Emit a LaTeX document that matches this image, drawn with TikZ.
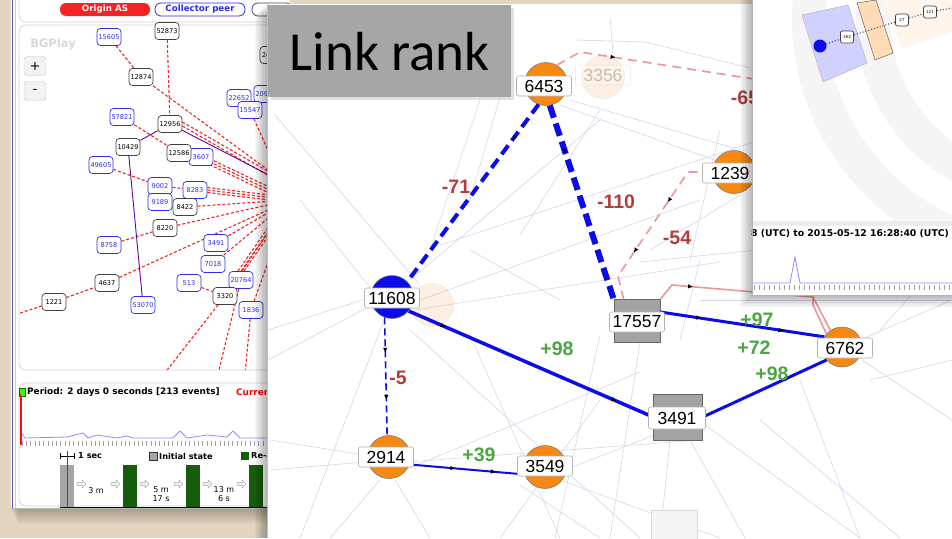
\documentclass[tikz,border=0pt]{standalone}
\usepackage{fontspec}
\setmainfont{Liberation Sans}
\newfontfamily\verdana{DejaVu Sans}
\newfontfamily\calibri{Carlito}
\usetikzlibrary{positioning,calc,arrows.meta,decorations.markings,shapes.arrows}

\definecolor{deskbeige}{RGB}{226,214,193}
\definecolor{asorange}{RGB}{246,136,20}
\definecolor{linkblue}{RGB}{12,12,235}
\definecolor{lossred}{RGB}{180,60,60}
\definecolor{gaingreen}{RGB}{75,165,65}
\definecolor{fadepink}{RGB}{236,150,150}
\definecolor{ghostline}{RGB}{214,214,234}
\definecolor{peerblue}{RGB}{45,45,235}
\definecolor{bgred}{RGB}{245,35,35}
\definecolor{bargreen}{RGB}{22,92,12}
\definecolor{titlegray}{RGB}{166,166,166}

\pgfdeclarelayer{back}
\pgfdeclarelayer{wires}
\pgfsetlayers{back,wires,main}

\begin{document}
\begin{tikzpicture}[x=1pt,y=-1pt,>=Latex]
    \tikzset{
        bgas/.style={
            draw=black!75,
            fill=white,
            rounded corners=3.5pt,
            minimum width=24pt,
            minimum height=17pt,
            inner sep=1pt,
            line width=0.7pt,
            font=\verdana\fontsize{6.6}{7}\selectfont
        },
        bgpeer/.style={bgas,draw=peerblue,text=peerblue},
        bgpath/.style={draw=bgred,dash pattern=on 3pt off 2pt,line width=1.1pt},
        bgtree/.style={draw=violet!85!blue,line width=0.9pt},
        button/.style={
            rounded corners=6pt,
            line width=0.8pt,
            minimum height=13pt,
            inner sep=1pt,
            font=\verdana\bfseries\fontsize{8.7}{9}\selectfont
        },
        zoombtn/.style={
            draw=gray!45,
            fill=gray!10,
            rounded corners=3pt,
            minimum width=22pt,
            minimum height=19pt,
            font=\verdana\fontsize{13}{13}\selectfont
        },
        panel/.style={draw=gray!35,line width=0.8pt,rounded corners=7pt},
        legend/.style={anchor=west,inner sep=0pt,font=\verdana\bfseries\fontsize{8.2}{9}\selectfont},
        tiny/.style={font=\verdana\fontsize{8}{9}\selectfont},
        hop/.style={
            single arrow,
            draw=gray!70,
            fill=gray!12,
            minimum height=9pt,
            minimum width=8pt,
            inner sep=0.6pt,
            single arrow head extend=1.5pt
        },
        asnode/.style={
            circle,
            fill=asorange,
            draw=black!55,
            line width=0.5pt,
            minimum size=43pt,
            inner sep=0pt
        },
        transit/.style={
            rectangle,
            fill=gray!72,
            draw=black!60,
            line width=0.6pt,
            minimum width=46pt,
            minimum height=43pt
        },
        aslabel/.style={
            rectangle,
            rounded corners=2pt,
            fill=white,
            draw=gray!60,
            line width=0.6pt,
            minimum width=55pt,
            minimum height=20pt,
            inner sep=2pt,
            font=\fontsize{17.5}{18}\selectfont
        },
        rankloss/.style={text=lossred,font=\bfseries\fontsize{19.5}{20}\selectfont},
        rankgain/.style={rankloss,text=gaingreen},
        ghost/.style={draw=ghostline,line width=0.6pt},
        midarrow/.style={
            postaction={decorate,decoration={markings,
                mark=at position #1 with {\arrow[black]{Latex[length=5pt,width=4.5pt]}}}}
        }
    }
    \useasboundingbox (0,0) rectangle (952,538);

    % Desk and BGPlay window
    \begin{pgfonlayer}{back}
        \fill[deskbeige] (0,0) rectangle (952,538);
        \foreach \i in {1,...,8}
            \fill[black,opacity=0.035] (10+\i,0) rectangle (268,508+2*\i);
        \fill[white] (11,0) rectangle (268,508);
        \draw[blue!35!gray,line width=0.8pt] (12,0) -- (12,508);
        \draw[gray!40,line width=0.6pt] (15.5,0) -- (15.5,508);
        \draw[gray!55,line width=0.6pt] (11,508) -- (268,508);
        \draw[panel,fill=white] (19,-8) rectangle (290,22);
        \draw[panel,fill=white] (19,25) rectangle (290,370);
        \draw[panel,fill=white] (19,383) rectangle (290,506);
    \end{pgfonlayer}

    %% Buttons
    \node[button,fill=bgred,text=white,minimum width=90pt] (btnOrigin) at (105,9.5) {Origin AS};
    \node[button,draw=peerblue,fill=white,text=peerblue,minimum width=90pt] (btnPeer) at (200,9.5) {Collector peer};
    \node[button,draw=black!70,fill=white,minimum width=40pt] (btnMore) at (272,9.5) {};

    \node[text=gray!30,font=\verdana\bfseries\fontsize{11.5}{12}\selectfont] (bgTitle) at (53,44) {BGPlay};
    \node[zoombtn] (zoomIn) at (35,66) {+};
    \node[zoombtn] (zoomOut) at (35,91) {-};

    %% AS graph
    \node[bgpeer] (p15605) at (109,37) {15605};
    \node[bgas] (a52873) at (167,31) {52873};
    \node[bgas,text width=20pt,align=left] (a24) at (272,55) {24};
    \node[bgas] (a12874) at (141,77) {12874};
    \node[bgpeer] (p22652) at (239,98) {22652};
    \node[bgpeer] (p20932) at (266,94) {20932};
    \node[bgpeer] (p15547) at (250,110) {15547};
    \node[bgpeer] (p57821) at (122,117) {57821};
    \node[bgas] (a12956) at (170,124) {12956};
    \node[bgas] (a10429) at (128,147) {10429};
    \node[bgpeer] (p3607) at (201,157) {3607};
    \node[bgas] (a12586) at (179,153) {12586};
    \node[bgpeer] (p49605) at (101,165) {49605};
    \node[bgpeer] (p9002) at (160,186) {9002};
    \node[bgpeer] (p8283) at (195,190) {8283};
    \node[bgpeer] (p9189) at (160,202) {9189};
    \node[bgas] (a8422) at (185,207) {8422};
    \node[bgas] (a8220) at (165,228) {8220};
    \node[bgpeer] (p8758) at (109,245) {8758};
    \node[bgpeer] (p3491) at (216,243) {3491};
    \node[bgpeer] (p7018) at (213,264) {7018};
    \node[bgas] (a4637) at (107,283) {4637};
    \node[bgpeer] (p513) at (189,283) {513};
    \node[bgpeer] (p20764) at (241,280) {20764};
    \node[bgas] (a3320) at (225,296) {3320};
    \node[bgas] (a1221) at (54,302) {1221};
    \node[bgpeer] (p53070) at (143,305) {53070};
    \node[bgpeer] (p1836) at (251,310) {1836};

    \begin{pgfonlayer}{wires}
        \begin{scope}
            \clip (20,26) rectangle (267,369);
            \coordinate (feed) at (290,200);
            \coordinate (feedTop) at (290,186);
            \coordinate (sinkA) at (164,374);
            \coordinate (sinkB) at (218,374);
            \coordinate (sinkC) at (245,374);
            \coordinate (westEnd) at (20,313);
            \draw[bgpath] (p15605) -- (a12874);
            \draw[bgpath] (a12874) -- (feedTop);
            \draw[bgpath] (a52873) -- (a12956);
            \draw[bgpath] (p57821) -- (a12586);
            \draw[bgpath] (p15547) -- (feed);
            \foreach \s in {-2,2}
                \draw[bgpath] ([yshift=\s pt]a12956.east) -- ([yshift=\s pt]feedTop);
            \foreach \s in {-3,0,3}
                \draw[bgpath] ([yshift=\s pt]a12586.east) -- ([yshift=\s pt]feed);
            \draw[bgpath] (p49605) -- (p9002);
            \draw[bgpath] (p9002) -- (p8283);
            \foreach \s in {-2.5,0,2.5}
                \draw[bgpath] ([yshift=\s pt]p8283.east) -- ([yshift=\s pt]feed);
            \draw[bgpath] (a8422) -- (feed);
            \draw[bgpath] (p8758) -- (a8220);
            \draw[bgpath] (a8220) -- (feed);
            \draw[bgpath] (westEnd) -- (a1221);
            \draw[bgpath] (a1221) -- (a4637);
            \draw[bgpath] (a4637) -- (feed);
            \draw[bgpath] (p3491) -- (feed);
            \draw[bgpath] (p7018) -- (feed);
            \foreach \s in {-3,0,3}
                \draw[bgpath] ([xshift=\s pt]p20764.north) -- ([xshift=\s pt]feed);
            \draw[bgpath] (p513) -- (a3320);
            \draw[bgpath] (a3320) -- (feed);
            \draw[bgpath] (a3320) -- (sinkA);
            \draw[bgpath] (p20764) -- (sinkB);
            \draw[bgpath] (p1836) -- (sinkC);
            \draw[bgpath] (p1836) -- (feed);
            \draw[bgtree] (a12956) -- (a10429);
            \draw[bgtree] (a10429) -- (p53070);
            \draw[bgtree] (a12956) -- (feedTop);
        \end{scope}
    \end{pgfonlayer}

    %% Timeline
    \node[fill=green!75!lime,draw=green!45!black,minimum width=6pt,minimum height=8pt,inner sep=0pt] (playIcon) at (22,392) {};
    \node[legend,font=\verdana\bfseries\fontsize{8.9}{9}\selectfont] (period) at (27,392) {Period: 2 days 0 seconds [213 events]};
    \node[legend,text=red,font=\verdana\bfseries\fontsize{8.9}{9}\selectfont] (current) at (236,392) {Current};
    \draw[blue!45,line width=0.8pt] (20,431) -- (25,438) -- (67,437) -- (83,433) -- (88,438) -- (97,435)
        -- (117,438) -- (127,436) -- (133,438) -- (173,438) -- (180,431) -- (187,438) -- (207,435)
        -- (227,437) -- (233,431) -- (240,438) -- (268,438);
    \draw[red,line width=1pt] (20,394) -- (20,445);
    \draw[blue!70,line width=0.6pt] (21.3,396) -- (21.3,445);
    \foreach \x in {22,26.3,...,268}
        \draw[gray!75,line width=0.6pt] (\x,441) -- (\x,446);

    \draw[line width=0.8pt] (60,456) -- (74,456);
    \draw[line width=0.8pt] (60,453) -- (60,459);
    \draw[line width=0.8pt] (74,453) -- (74,459);
    \node[legend] (oneSec) at (78,456) {1 sec};
    \node[fill=gray!70,draw=gray!40!black,minimum size=8pt,inner sep=0pt] (keyInit) at (153,456) {};
    \node[legend] (initState) at (159,456) {Initial state};
    \node[fill=bargreen,minimum size=8pt,inner sep=0pt] (keyRe) at (245,456) {};
    \node[legend] (reAnn) at (251,456) {Re-announce};

    \fill[gray!70] (60,465) rectangle (74,507);
    \foreach \x in {123,186,249}
        \fill[bargreen] (\x,465) rectangle (\x+14,507);
    \draw[red,line width=1pt] (67,451) -- (67,507);
    \draw[line width=0.8pt] (60,507) -- (268,507);
    \foreach \x [count=\k] in {81,115,144,178,207,241}
        \node[hop] (hop\k) at (\x,484) {};
    \node[tiny] (gap1) at (96,491) {3 m};
    \node[tiny,align=center] (gap2) at (161,494) {5 m\\17 s};
    \node[tiny,align=center] (gap3) at (224,494) {13 m\\6 s};

    % Link rank view
    \foreach \i in {1,...,10}
        \fill[black,opacity=0.03] (267-\i*1.2,4+\i) rectangle (267,538);
    \fill[white] (267,4) rectangle (952,538);
    \draw[black!25,line width=0.6pt] (267,4) -- (267,538);

    \begin{scope}
        \clip (267,4) rectangle (952,538);
        \foreach \ax/\ay/\bx/\by in {275/115/420/285, 268/360/372/305, 268/330/372/297,
            300/538/385/318, 410/280/600/120, 420/300/700/200, 415/310/720/262,
            410/330/640/538, 405/470/640/372, 408/462/700/440, 565/470/680/425,
            560/480/720/538, 520/485/600/538, 600/335/555/538, 640/342/610/538,
            670/440/660/538, 690/440/745/538, 705/425/860/538, 470/335/560/538,
            560/105/720/162, 575/40/645/42, 645/42/750/68, 610/18/613/52,
            570/100/740/150, 520/235/600/110, 440/245/760/140, 640/262/952/230,
            700/300/952/300, 860/340/952/300, 862/360/952/420, 800/380/860/538,
            760/420/900/538, 270/440/365/455, 270/470/365/462, 330/538/380/480,
            430/538/395/480, 470/250/560/300, 480/100/430/250, 505/80/470/200,
            300/200/372/290, 650/250/740/195, 690/260/720/130, 760/170/860/100,
            870/380/952/360, 880/330/952/250, 600/400/500/538, 680/340/700/260}
            \draw[ghost] (\ax,\ay) -- (\bx,\by);
    \end{scope}

    %% Faded ASes
    \node[asnode,opacity=0.12] (c3356) at (603,77) {};
    \node[aslabel,draw opacity=0.2,fill opacity=0.2,text opacity=0.22] (l3356) at (603,75) {3356};
    \node[asnode,opacity=0.12] (cGhost) at (432,305) {};
    \node[draw=gray!30,fill=gray!8,minimum width=46pt,minimum height=34pt] (rGhost) at (674,527) {};

    %% ASes
    \node[asnode] (c6453) at (546,84) {};
    \node[asnode] (c1239) at (734,172) {};
    \node[asnode,fill=linkblue] (c11608) at (392,297) {};
    \node[asnode] (c2914) at (389,457) {};
    \node[asnode] (c3549) at (545,467) {};
    \node[asnode,minimum size=40pt] (c6762) at (842,347) {};
    \node[transit] (r17557) at (637,321) {};
    \node[transit,minimum width=49pt,minimum height=46pt] (r3491) at (678,417) {};

    %% Withdrawn links
    \coordinate (offRight) at (760,80);
    \draw[fadepink,line width=1.6pt,dash pattern=on 9pt off 6pt,midarrow=0.3]
        (c6453.60) -- (580,52) -- (offRight);
    \draw[fadepink,line width=1.6pt,dash pattern=on 9pt off 6pt,midarrow=0.35,midarrow=0.7]
        (c1239.180) -- (688,172) -- (618,276) -- ([xshift=10pt]r17557.north west);
    \draw[fadepink,line width=1.6pt,midarrow=0.2,midarrow=0.55]
        (r17557.north east) -- (672,285) -- (813,297) -- (c6762.125);
    \draw[fadepink,line width=1.6pt] (813,297) -- (813,305) -- (c6762.140);
    \draw[linkblue,line width=4pt,dash pattern=on 11pt off 6pt,midarrow=0.2]
        (c6453.250) -- (c11608.45);
    \draw[linkblue,line width=6pt,dash pattern=on 13pt off 6pt,midarrow=0.25]
        (c6453.-80) -- (r17557.north west);
    \draw[linkblue,line width=1.6pt,dash pattern=on 7pt off 4pt,midarrow=0.3,midarrow=0.7]
        (c11608.250) -- (c2914.95);

    %% Announced links
    \draw[linkblue,line width=3.5pt,midarrow=0.15,midarrow=0.85] (c11608.-40) -- (r3491.west);
    \draw[linkblue,line width=2pt,midarrow=0.4,midarrow=0.75] (c2914.-20) -- (c3549.200);
    \draw[linkblue,line width=3pt,midarrow=0.25,midarrow=0.75] ([yshift=9pt]r17557.east) -- (c6762.150);
    \draw[linkblue,line width=3pt,midarrow=0.7] (r3491.east) -- (c6762.220);

    %% AS labels
    \node[aslabel] (l6453) at (544,86) {6453};
    \node[aslabel] (l1239) at (730,173) {1239};
    \node[aslabel] (l11608) at (392,298) {11608};
    \node[aslabel] (l2914) at (386,457) {2914};
    \node[aslabel] (l3549) at (545,466) {3549};
    \node[aslabel] (l6762) at (845,348) {6762};
    \node[aslabel] (l17557) at (637,322) {17557};
    \node[aslabel,minimum width=57pt,minimum height=22pt] (l3491) at (677,418) {3491};

    %% Rank changes
    \node[rankloss] (d71) at (456,187) {-71};
    \node[rankloss] (d110) at (616,202) {-110};
    \node[rankloss] (d54) at (677,238) {-54};
    \node[rankloss] (d65) at (745,98) {-65};
    \node[rankloss] (d5) at (398,378) {-5};
    \node[rankgain] (g98a) at (557,349) {+98};
    \node[rankgain] (g39) at (479,455) {+39};
    \node[rankgain] (g97) at (757,320) {+97};
    \node[rankgain] (g72) at (754,348) {+72};
    \node[rankgain] (g98b) at (772,374) {+98};

    %% Title
    \fill[black,opacity=0.12] (271,8) rectangle (514,100);
    \node[fill=titlegray,minimum width=243pt,minimum height=92pt,anchor=north west,inner sep=0pt,
        font=\calibri\fontsize{55}{55}\selectfont] (title) at (268,5) {Link rank};

    % Path history view
    \foreach \i in {1,...,8}
        \fill[black,opacity=0.035] (752-\i*1.5,0) rectangle (952,295+\i*1.5);
    \fill[white] (752,0) rectangle (952,295);
    \begin{scope}
        \clip (753,0) rectangle (952,221);
        \draw[gray!8,line width=34pt] (1043,18) circle[radius=234];
        \draw[gray!8,line width=34pt] (1043,18) circle[radius=170];
    \end{scope}
    \fill[orange!8] (883,0) -- (952,0) -- (952,32) -- (902,48) -- cycle;
    \draw[gray!60,fill=blue!18] (802,15) -- (848,5) -- (867,63) -- (823,82) -- cycle;
    \draw[gray!60!black,fill=orange!28] (857,3) -- (876,0) -- (893,53) -- (875,60) -- cycle;
    \node[circle,fill=linkblue,minimum size=13pt,inner sep=0pt] (hOrigin) at (820,46) {};
    \node[bgas,minimum width=13pt,minimum height=12pt,rounded corners=2pt,font=\verdana\fontsize{4}{4}\selectfont] (h182) at (847,37) {182};
    \node[bgas,minimum width=13pt,minimum height=12pt,rounded corners=2pt,font=\verdana\fontsize{4}{4}\selectfont] (h27) at (902,20) {27};
    \node[bgas,minimum width=13pt,minimum height=12pt,rounded corners=2pt,font=\verdana\fontsize{4}{4}\selectfont] (h121) at (930,12) {121};
    \draw[gray!50!black,dotted,line width=1pt] (hOrigin) -- (h182);
    \draw[gray!50!black,dotted,line width=1pt] (h182) -- (h27);
    \draw[gray!50!black,dotted,line width=1pt] (h27) -- (h121);
    \draw[gray!50!black,dotted,line width=1pt] (h121) -- (952,8);
    \fill[gray!15] (752,221) rectangle (952,226);
    \node[legend,font=\verdana\bfseries\fontsize{9.3}{10}\selectfont] (range) at (751,234) {8 (UTC) to 2015-05-12 16:28:40 (UTC)};
    \draw[blue!45,line width=0.8pt] (752,283) -- (790,283) -- (795,257) -- (800,283) -- (952,283);
    \foreach \x in {754,759,...,952}
        \draw[gray!75,line width=0.6pt] (\x,285) -- (\x,290);
    \draw[gray!60,line width=0.8pt] (752,0) -- (752,295) -- (952,295);
\end{tikzpicture}
\end{document}
